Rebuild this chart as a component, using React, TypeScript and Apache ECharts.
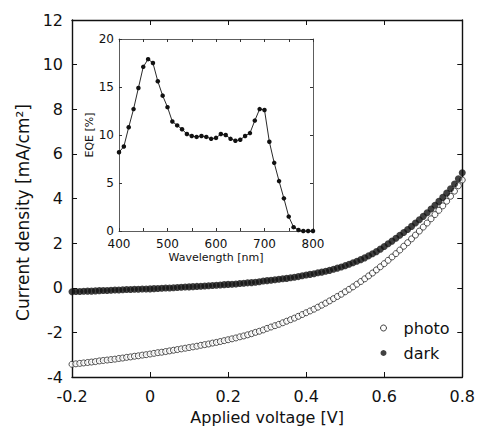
import React, { useEffect, useRef } from "react";
import * as echarts from "echarts";

// Applied voltage [V]
const voltage = [
  -0.2, -0.19, -0.18, -0.17, -0.16, -0.15, -0.14, -0.13, -0.12, -0.11,
  -0.1, -0.09, -0.08, -0.07, -0.06, -0.05, -0.04, -0.03, -0.02, -0.01,
  0.0, 0.01, 0.02, 0.03, 0.04, 0.05, 0.06, 0.07, 0.08, 0.09,
  0.1, 0.11, 0.12, 0.13, 0.14, 0.15, 0.16, 0.17, 0.18, 0.19,
  0.2, 0.21, 0.22, 0.23, 0.24, 0.25, 0.26, 0.27, 0.28, 0.29,
  0.3, 0.31, 0.32, 0.33, 0.34, 0.35, 0.36, 0.37, 0.38, 0.39,
  0.4, 0.41, 0.42, 0.43, 0.44, 0.45, 0.46, 0.47, 0.48, 0.49,
  0.5, 0.51, 0.52, 0.53, 0.54, 0.55, 0.56, 0.57, 0.58, 0.59,
  0.6, 0.61, 0.62, 0.63, 0.64, 0.65, 0.66, 0.67, 0.68, 0.69,
  0.7, 0.71, 0.72, 0.73, 0.74, 0.75, 0.76, 0.77, 0.78, 0.79,
  0.8,
];

// Current density under illumination [mA/cm2]
const photo = [
  -3.43, -3.41, -3.39, -3.37, -3.35, -3.33, -3.31, -3.28, -3.26, -3.24,
  -3.22, -3.2, -3.17, -3.15, -3.12, -3.1, -3.07, -3.05, -3.02, -3.0,
  -2.97, -2.94, -2.91, -2.89, -2.86, -2.83, -2.8, -2.77, -2.74, -2.71,
  -2.68, -2.65, -2.62, -2.58, -2.55, -2.52, -2.48, -2.45, -2.41, -2.37,
  -2.33, -2.29, -2.25, -2.2, -2.16, -2.11, -2.06, -2.0, -1.95, -1.89,
  -1.82, -1.76, -1.7, -1.64, -1.57, -1.5, -1.43, -1.36, -1.28, -1.2,
  -1.12, -1.04, -0.96, -0.87, -0.78, -0.69, -0.59, -0.49, -0.39, -0.29,
  -0.18, -0.07, 0.04, 0.16, 0.28, 0.4, 0.53, 0.66, 0.8, 0.94,
  1.08, 1.23, 1.38, 1.53, 1.69, 1.86, 2.02, 2.19, 2.36, 2.54,
  2.72, 2.9, 3.09, 3.28, 3.47, 3.67, 3.88, 4.1, 4.33, 4.57,
  4.83,
];

// Current density in the dark [mA/cm2]
const dark = [
  -0.18, -0.17, -0.17, -0.16, -0.15, -0.15, -0.14, -0.13, -0.12, -0.12,
  -0.11, -0.1, -0.1, -0.09, -0.08, -0.08, -0.07, -0.07, -0.06, -0.06,
  -0.05, -0.04, -0.03, -0.02, -0.01, -0.01, 0.0, 0.01, 0.02, 0.03,
  0.04, 0.05, 0.06, 0.07, 0.08, 0.09, 0.1, 0.11, 0.12, 0.14,
  0.15, 0.16, 0.17, 0.19, 0.2, 0.22, 0.23, 0.25, 0.27, 0.3,
  0.32, 0.34, 0.36, 0.38, 0.4, 0.42, 0.45, 0.47, 0.5, 0.54,
  0.57, 0.6, 0.63, 0.67, 0.7, 0.74, 0.78, 0.83, 0.88, 0.93,
  0.99, 1.05, 1.12, 1.19, 1.26, 1.34, 1.43, 1.52, 1.62, 1.73,
  1.85, 1.97, 2.09, 2.22, 2.35, 2.48, 2.61, 2.75, 2.9, 3.05,
  3.2, 3.36, 3.53, 3.7, 3.87, 4.05, 4.24, 4.44, 4.65, 4.88,
  5.15,
];

// Inset: wavelength [nm] and EQE [%]
const wavelength = [
  400, 410, 420, 430, 440, 450, 460, 470, 480, 490,
  500, 510, 520, 530, 540, 550, 560, 570, 580, 590,
  600, 610, 620, 630, 640, 650, 660, 670, 680, 690,
  700, 710, 720, 730, 740, 750, 760, 770, 780, 790,
  800,
];
const eqe = [
  8.2, 8.8, 10.8, 12.7, 14.9, 17.1, 17.9, 17.5, 15.6, 14.1,
  12.9, 11.4, 11.0, 10.6, 10.1, 9.9, 9.8, 9.9, 9.8, 9.6,
  9.7, 10.1, 10.0, 9.6, 9.4, 9.5, 9.9, 10.2, 11.5, 12.7,
  12.6, 9.3, 7.1, 5.2, 3.4, 1.5, 0.4, 0.1, 0, 0,
  0,
];

const seriesNames = ["photo", "dark"];
const xTitle = "Applied voltage [V]";
const yTitle = "Current density [mA/cm²]";
const insetXTitle = "Wavelength [nm]";
const insetYTitle = "EQE [%]";

const FONT = "DejaVu Sans";
const INK = "#111";

function frameAxis(gridIndex: number, position: string, min: number, max: number, interval: number, tickLen: number, lw: number, color: string) {
  return {
    type: "value",
    gridIndex,
    position,
    min,
    max,
    interval,
    axisLine: { show: true, onZero: false, lineStyle: { color, width: lw } },
    axisTick: { show: true, inside: true, length: tickLen, lineStyle: { color, width: 1 } },
    axisLabel: { show: false },
    splitLine: { show: false },
  };
}

export default function App() {
  const ref = useRef<HTMLDivElement>(null);
  useEffect(() => {
    if (!ref.current) return;
    const chart = echarts.init(ref.current, undefined, { renderer: "svg" });
    const option = {
      animation: false,
      backgroundColor: "#fff",
      grid: [
        { left: 72, right: 15, top: 20, bottom: 56 },
        { left: 119, right: 165, top: 39, bottom: 202 },
      ],
      legend: {
        data: [
          { name: seriesNames[0], icon: "circle", itemStyle: { color: "#fff", borderColor: INK, borderWidth: 1 } },
          { name: seriesNames[1], icon: "circle", itemStyle: { color: INK } },
        ],
        orient: "vertical",
        left: 380,
        top: 320,
        padding: 0,
        itemWidth: 30,
        itemHeight: 6,
        itemGap: 9,
        selectedMode: false,
        textStyle: { fontFamily: FONT, fontSize: 16, color: INK },
      },
      xAxis: [
        {
          ...frameAxis(0, "bottom", -0.2, 0.8, 0.2, 5, 1.4, INK),
          axisLabel: { show: true, color: INK, fontFamily: FONT, fontSize: 16, margin: 11, showMinLabel: true, showMaxLabel: true },
          name: xTitle,
          nameLocation: "middle",
          nameGap: 32,
          nameTextStyle: { color: INK, fontFamily: FONT, fontSize: 16 },
        },
        frameAxis(0, "top", -0.2, 0.8, 0.2, 5, 1.4, INK),
        {
          ...frameAxis(1, "bottom", 400, 800, 50, 3, 0.8, "#333"),
          axisLabel: {
            show: true, color: INK, fontFamily: FONT, fontSize: 12, margin: 7,
            showMinLabel: true, showMaxLabel: true,
            formatter: (v: number) => (v % 100 === 0 ? String(v) : ""),
          },
          name: insetXTitle,
          nameLocation: "middle",
          nameGap: 21,
          nameTextStyle: { color: INK, fontFamily: FONT, fontSize: 11 },
        },
        frameAxis(1, "top", 400, 800, 50, 3, 0.8, "#333"),
      ],
      yAxis: [
        {
          ...frameAxis(0, "left", -4, 12, 2, 5, 1.4, INK),
          axisLabel: { show: true, color: INK, fontFamily: FONT, fontSize: 16, margin: 9, showMinLabel: true, showMaxLabel: true },
          name: yTitle,
          nameLocation: "middle",
          nameRotate: 90,
          nameGap: 32,
          nameTextStyle: { color: INK, fontFamily: FONT, fontSize: 17, padding: [0, 28, 0, 0] },
        },
        frameAxis(0, "right", -4, 12, 2, 5, 1.4, INK),
        {
          ...frameAxis(1, "left", 0, 20, 5, 3, 0.8, "#333"),
          axisLabel: { show: true, color: INK, fontFamily: FONT, fontSize: 12, margin: 5, showMinLabel: true, showMaxLabel: true },
          name: insetYTitle,
          nameLocation: "middle",
          nameRotate: 90,
          nameGap: 24,
          nameTextStyle: { color: INK, fontFamily: FONT, fontSize: 11 },
        },
        frameAxis(1, "right", 0, 20, 5, 3, 0.8, "#333"),
      ],
      series: [
        {
          name: seriesNames[0],
          type: "scatter",
          xAxisIndex: 0,
          yAxisIndex: 0,
          symbol: "circle",
          symbolSize: 6,
          itemStyle: { color: "#fff", borderColor: INK, borderWidth: 0.9 },
          data: voltage.map((v, i) => [v, photo[i]]),
          z: 2,
        },
        {
          name: seriesNames[1],
          type: "scatter",
          xAxisIndex: 0,
          yAxisIndex: 0,
          symbol: "circle",
          symbolSize: 7,
          itemStyle: { color: INK },
          data: voltage.map((v, i) => [v, dark[i]]),
          z: 3,
        },
        {
          name: "EQE",
          type: "line",
          xAxisIndex: 2,
          yAxisIndex: 2,
          symbol: "circle",
          symbolSize: 4.5,
          lineStyle: { color: INK, width: 0.9 },
          itemStyle: { color: INK },
          data: wavelength.map((w, i) => [w, eqe[i]]),
          z: 4,
        },
      ],
    };
    chart.setOption(option as any);
    return () => chart.dispose();
  }, []);
  return (
    <div
      ref={ref}
      style={{ position: "absolute", left: 0, top: 0, width: 478, height: 433 }}
    />
  );
}
